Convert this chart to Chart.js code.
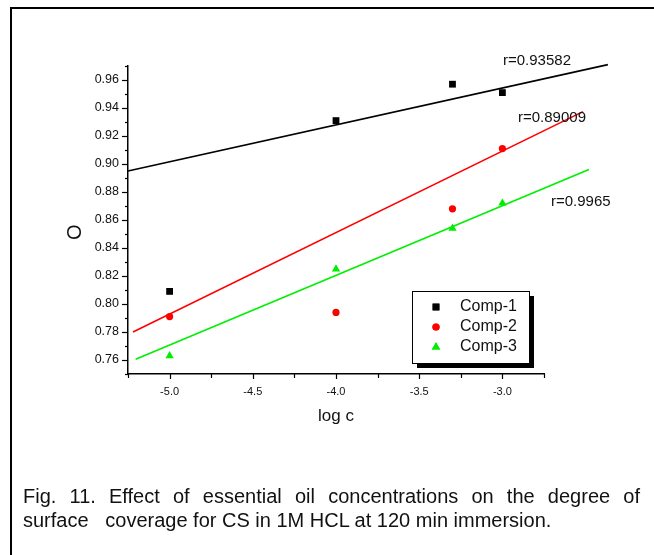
<!DOCTYPE html>
<html>
<head>
<meta charset="utf-8">
<script src="https://cdn.jsdelivr.net/npm/chart.js@4.4.1/dist/chart.umd.min.js"></script>
<style>
  html, body { margin: 0; padding: 0; background: #fff; width: 654px; height: 555px; overflow: hidden; }
  body { position: relative; font-family: "Liberation Sans", Arial, sans-serif; }
  #frame { position: absolute; left: 10px; top: 7px; width: 700px; height: 600px;
           border-left: 2px solid #000; border-top: 2px solid #000; }
  #c { position: absolute; left: 0; top: 0; }
  .rlab { position: absolute; font-size: 15px; color: #111; white-space: nowrap; line-height: 1; }
  .cap { position: absolute; left: 23px; font-size: 20px; line-height: 24px; color: #111; white-space: nowrap; }
  #cap1 { top: 484px; width: 617px; white-space: normal; text-align: justify; text-align-last: justify; }
  #cap2 { top: 508px; }
</style>
</head>
<body>
<div id="frame"></div>
<canvas id="c" width="654" height="555"></canvas>
<div class="rlab" style="left:503px; top:52px;">r=0.93582</div>
<div class="rlab" style="left:518px; top:109px;">r=0.89009</div>
<div class="rlab" style="left:551px; top:193px;">r=0.9965</div>
<div class="cap" id="cap1">Fig. 11. Effect of essential oil concentrations on the degree of</div>
<div class="cap" id="cap2">surface&nbsp;&nbsp; coverage for CS in 1M HCL at 120 min immersion.</div>
<script>
// ---- data ----
const logC = [-5.0, -4.0, -3.3, -3.0];
const comp1 = [0.809, 0.931, 0.957, 0.951];
const comp2 = [0.791, 0.794, 0.868, 0.911];
const comp3 = [0.763, 0.825, 0.854, 0.872];
const seriesNames = ['Comp-1', 'Comp-2', 'Comp-3'];

// fitted lines (start/end as drawn)
const fit1X = [-5.25, -2.366], fit1Y = [0.895, 0.971];
const fit2X = [-5.22, -2.516], fit2Y = [0.780, 0.9374];
const fit3X = [-5.204, -2.48], fit3Y = [0.7605, 0.896];

const xMin = -5.25, xMax = -2.75, xStep = 0.25;
const yMin = 0.75, yMax = 0.97, yStep = 0.01;
const yTitle = 'O';

const colors = ['#000000', '#ff0000', '#00ee00'];
const styles = ['rect', 'circle', 'triangle'];
const radii = [4.8, 3.6, 4.8];

const pts = (xs, ys) => xs.map((x, i) => ({ x: x, y: ys[i] }));

const datasets = [];
[comp1, comp2, comp3].forEach((vals, i) => {
  datasets.push({
    label: seriesNames[i], type: 'scatter', data: pts(logC, vals),
    pointStyle: styles[i], pointRadius: radii[i], pointHoverRadius: radii[i],
    backgroundColor: colors[i], borderColor: colors[i], borderWidth: 0, order: 0
  });
});
[[fit1X, fit1Y], [fit2X, fit2Y], [fit3X, fit3Y]].forEach((f, i) => {
  datasets.push({
    label: 'fit' + (i + 1), type: 'line', data: pts(f[0], f[1]),
    borderColor: colors[i], borderWidth: 1.6, pointRadius: 0, fill: false,
    clip: false, order: 1
  });
});

const tickPlugin = {
  id: 'originTicks',
  afterDraw(chart) {
    const ctx = chart.ctx;
    const xs = chart.scales.x, ys = chart.scales.y;
    const area = chart.chartArea;
    ctx.save();
    ctx.strokeStyle = '#000';
    ctx.lineWidth = 1.2;
    ys.ticks.forEach(t => {
      const y = Math.round(ys.getPixelForValue(t.value)) + 0.5;
      const major = Math.round(t.value * 100) % 2 === 0;
      const len = major ? 6 : 3;
      ctx.beginPath(); ctx.moveTo(area.left, y); ctx.lineTo(area.left - len, y); ctx.stroke();
    });
    xs.ticks.forEach(t => {
      const x = Math.round(xs.getPixelForValue(t.value)) + 0.5;
      const major = Math.round(t.value * 4) % 2 === 0;
      const len = major ? 5 : 4;
      ctx.beginPath(); ctx.moveTo(x, area.bottom); ctx.lineTo(x, area.bottom + len); ctx.stroke();
    });
    // y axis title
    ctx.save();
    ctx.translate(75, area.top + (area.bottom - area.top) * 0.54);
    ctx.rotate(-Math.PI / 2);
    ctx.fillStyle = '#111';
    ctx.font = '20px "Liberation Sans", Arial, sans-serif';
    ctx.textAlign = 'center';
    ctx.textBaseline = 'middle';
    ctx.fillText(yTitle, 0, 0);
    ctx.restore();
    // legend box
    const bx = 412, by = 291, bw = 117, bh = 72;
    ctx.fillStyle = '#000';
    ctx.fillRect(bx + 5, by + 5, bw, bh);
    ctx.fillStyle = '#fff';
    ctx.fillRect(bx, by, bw, bh);
    ctx.lineWidth = 1;
    ctx.strokeStyle = '#000';
    ctx.strokeRect(bx + 0.5, by + 0.5, bw, bh);
    ctx.font = '16px "Liberation Sans", Arial, sans-serif';
    ctx.textBaseline = 'middle';
    ctx.textAlign = 'left';
    seriesNames.forEach((name, i) => {
      const ry = by + 16 + i * 20;
      ctx.fillStyle = colors[i];
      Chart.helpers.drawPoint(ctx, { pointStyle: styles[i], radius: radii[i], borderWidth: 0, rotation: 0 }, bx + 24, ry);
      ctx.fill();
      ctx.fillStyle = '#111';
      ctx.fillText(name, bx + 48, ry);
    });
    ctx.restore();
  }
};

new Chart(document.getElementById('c'), {
  data: { datasets: datasets },
  plugins: [tickPlugin],
  options: {
    responsive: false, animation: false, devicePixelRatio: 1,
    layout: { padding: { left: 0, top: 66, right: 110, bottom: 121 } },
    plugins: { legend: { display: false }, tooltip: { enabled: false } },
    scales: {
      x: {
        type: 'linear', min: xMin, max: xMax,
        afterFit: s => { s.height = 60; },
        grid: { display: false },
        border: { display: true, color: '#000', width: 1.5 },
        ticks: {
          stepSize: xStep, autoSkip: false, maxRotation: 0, padding: 3,
          color: '#111', font: { family: '"Liberation Sans", Arial, sans-serif', size: 11 },
          callback: v => (Math.round(v * 4) % 2 === 0 ? v.toFixed(1) : '')
        },
        title: { display: true, text: 'log c', color: '#111',
                 font: { family: '"Liberation Sans", Arial, sans-serif', size: 17 },
                 padding: { top: 0, bottom: 7 } }
      },
      y: {
        type: 'linear', min: yMin, max: yMax,
        afterFit: s => { s.width = 128; },
        grid: { display: false },
        border: { display: true, color: '#000', width: 1.5 },
        ticks: {
          stepSize: yStep, autoSkip: false, padding: 1,
          color: '#111', font: { family: '"Liberation Sans", Arial, sans-serif', size: 12.5 },
          callback: v => (Math.round(v * 100) % 2 === 0 ? v.toFixed(2) : '')
        },
        title: { display: false }
      }
    }
  }
});
</script>
</body>
</html>
